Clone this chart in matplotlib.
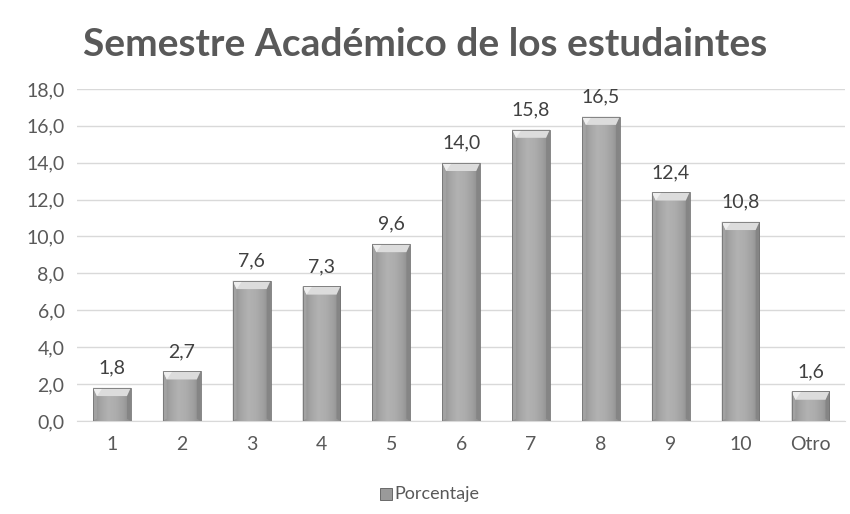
import numpy as np
import matplotlib.pyplot as plt
from matplotlib.patches import Rectangle, Polygon
from matplotlib.colors import LinearSegmentedColormap

# Datos
categorias = ["1", "2", "3", "4", "5", "6", "7", "8", "9", "10", "Otro"]
porcentaje = [1.8, 2.7, 7.6, 7.3, 9.6, 14.0, 15.8, 16.5, 12.4, 10.8, 1.6]
ticks_y = [0, 2, 4, 6, 8, 10, 12, 14, 16, 18]

plt.rcParams['font.family'] = ['Lato', 'DejaVu Sans']

fig = plt.figure(figsize=(8.5, 5.14), dpi=100)
ax = fig.add_axes([0.0906, 0.181, 0.904, 0.646])

x = np.arange(len(categorias))
ancho = 0.54

# Degradado horizontal para el cuerpo de las barras
cmap = LinearSegmentedColormap.from_list(
    "gris", ["#8e8e8e", "#a4a4a4", "#b2b2b2", "#adadad", "#a0a0a0", "#8a8a8a"])
grad = np.linspace(0, 1, 256).reshape(1, -1)

bx = 0.055   # ancho del bisel lateral (datos)
by = 0.45    # alto del bisel superior (datos)

barras = ax.bar(x, porcentaje, width=ancho, color="none", zorder=3)
for b, v in zip(barras, porcentaje):
    x0 = b.get_x()
    x1 = x0 + b.get_width()
    im = ax.imshow(grad, cmap=cmap, aspect="auto", extent=[x0, x1, 0, v],
                   zorder=3, interpolation="bicubic")
    im.set_clip_path(b)
    # bisel izquierdo y derecho
    ax.add_patch(Polygon([[x0, 0], [x0, v], [x0 + bx, v - by], [x0 + bx, 0.12]],
                         closed=True, facecolor="#a2a2a2", edgecolor="none", zorder=4))
    ax.add_patch(Polygon([[x1, 0], [x1, v], [x1 - bx, v - by], [x1 - bx, 0.12]],
                         closed=True, facecolor="#858585", edgecolor="none", zorder=4))
    # bisel superior
    ax.add_patch(Polygon([[x0, v], [x1, v], [x1 - bx, v - by], [x0 + bx, v - by]],
                         closed=True, facecolor="#dcdcdc", edgecolor="none", zorder=4))
    ax.add_patch(Polygon([[x0, v], [x0 + bx * 2.5, v], [x0 + bx, v - by]],
                         closed=True, facecolor="#eeeeee", edgecolor="none", zorder=4))
    ax.add_patch(Rectangle((x0, 0), b.get_width(), v, facecolor="none",
                           edgecolor="#747474", linewidth=0.6, zorder=5))
    ax.text(b.get_x() + b.get_width() / 2, v + 0.6, f"{v:.1f}".replace(".", ","),
            ha="center", va="bottom", fontsize=14, color="#404040", zorder=6)

ax.set_xlim(-0.5, len(categorias) - 0.5)
ax.set_ylim(0, 18)
ax.set_yticks(ticks_y)
ax.set_yticklabels([f"{t:.1f}".replace(".", ",") for t in ticks_y])
ax.set_xticks(x)
ax.set_xticklabels(categorias)
ax.tick_params(axis="both", length=0, labelsize=14, labelcolor="#595959")
ax.tick_params(axis="x", pad=11)
ax.tick_params(axis="y", pad=9)
ax.grid(axis="y", color="#d9d9d9", linewidth=1, zorder=0)
for s in ["top", "right", "left"]:
    ax.spines[s].set_visible(False)
ax.spines["bottom"].set_color("#d9d9d9")

fig.suptitle("Semestre Académico de los estudaintes", fontsize=28,
             fontweight="bold", color="#595959", y=0.948)

# Leyenda
fig.patches.append(Rectangle((0.447, 0.028), 0.014, 0.022, transform=fig.transFigure,
                             facecolor="#9a9a9a", edgecolor="#5a5a5a", linewidth=0.6))
fig.text(0.464, 0.038, "Porcentaje", fontsize=13, color="#595959", va="center")

fig.savefig("out.png", dpi=100)
